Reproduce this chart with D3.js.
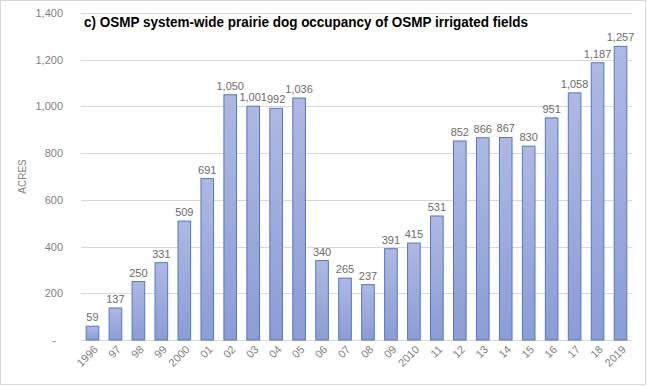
<!DOCTYPE html>
<html>
<head>
<meta charset="utf-8">
<script src="https://d3js.org/d3.v7.min.js"></script>
<style>
  body { margin: 0; background: #fff; }
  svg { font-family: 'Liberation Sans', Arial, sans-serif; }
  .tick text { fill: #7f7f7f; font-size: 11px; }
  .lbl { fill: #6b6b6b; font-size: 11px; text-anchor: middle; }
</style>
</head>
<body>
<script>
const years = ['1996','97','98','99','2000','01','02','03','04','05','06','07','08','09','2010','11','12','13','14','15','16','17','18','2019'];
const acres = [59,137,250,331,509,691,1050,1001,992,1036,340,265,237,391,415,531,852,866,867,830,951,1058,1187,1257];
const yTicks = [0,200,400,600,800,1000,1200,1400];

const W = 647, H = 386;
const m = {left: 81, right: 15, top: 13, bottom: 46};

const svg = d3.select('body').append('svg')
    .attr('width', W).attr('height', H);

// outer chart border
svg.append('rect')
    .attr('x', 0.5).attr('y', 0.5)
    .attr('width', W - 2).attr('height', H - 2)
    .attr('fill', 'none').attr('stroke', '#d9d9d9');

const grad = svg.append('defs').append('linearGradient')
    .attr('id', 'barFill').attr('x1', 0).attr('y1', 0).attr('x2', 0).attr('y2', 1);
grad.append('stop').attr('offset', '0%').attr('stop-color', '#aeb9e2');
grad.append('stop').attr('offset', '100%').attr('stop-color', '#8b9dd6');

const x = d3.scaleBand()
    .domain(years)
    .range([m.left, W - m.right])
    .paddingInner(0.45)
    .paddingOuter(0.225);

const y = d3.scaleLinear()
    .domain([0, 1400])
    .range([H - m.bottom, m.top]);

// gridlines
svg.append('g')
  .selectAll('line')
  .data(yTicks)
  .join('line')
    .attr('x1', m.left).attr('x2', W - m.right)
    .attr('y1', d => Math.round(y(d)) + 0.5).attr('y2', d => Math.round(y(d)) + 0.5)
    .attr('stroke', '#d9d9d9');

// y axis
const yAxis = svg.append('g')
    .attr('transform', `translate(${m.left - 15},0)`)
    .call(d3.axisLeft(y).tickValues(yTicks).tickSize(0)
        .tickFormat(d => d === 0 ? '-' : d3.format(',')(d)));
yAxis.select('.domain').remove();
yAxis.selectAll('.tick text').attr('dx', 0);
yAxis.selectAll('.tick').filter(d => d === 0).select('text').attr('dx', -7);

// bars
svg.append('g')
  .selectAll('rect')
  .data(acres)
  .join('rect')
    .attr('x', (d, i) => x(years[i]))
    .attr('y', d => y(d))
    .attr('width', x.bandwidth())
    .attr('height', d => y(0) - y(d))
    .attr('fill', 'url(#barFill)')
    .attr('stroke', '#5575cc')
    .attr('stroke-width', 1);

// data labels
svg.append('g')
  .selectAll('text')
  .data(acres)
  .join('text')
    .attr('class', 'lbl')
    .attr('x', (d, i) => x(years[i]) + x.bandwidth() / 2)
    .attr('y', d => y(d) - 5)
    .text(d => d3.format(',')(d));

// x axis
const xAxis = svg.append('g')
    .attr('transform', `translate(0,${y(0)})`)
    .call(d3.axisBottom(x).tickSize(0));
xAxis.select('.domain').remove();
xAxis.selectAll('.tick text')
    .attr('text-anchor', 'end')
    .attr('dy', 0)
    .attr('transform', 'translate(4,8) rotate(-45)');

// y title
svg.append('text')
    .attr('transform', `translate(26,${(y(0) + y(1400)) / 2}) rotate(-90)`)
    .attr('text-anchor', 'middle')
    .attr('fill', '#7f7f7f')
    .attr('font-size', 10)
    .text('ACRES');

// chart title
svg.append('text')
    .attr('x', 84).attr('y', 27)
    .attr('font-size', 14).attr('font-weight', 'bold')
    .attr('fill', '#000')
    .attr('textLength', 444).attr('lengthAdjust', 'spacingAndGlyphs')
    .text('c) OSMP system-wide prairie dog occupancy of OSMP irrigated fields');
</script>
</body>
</html>
